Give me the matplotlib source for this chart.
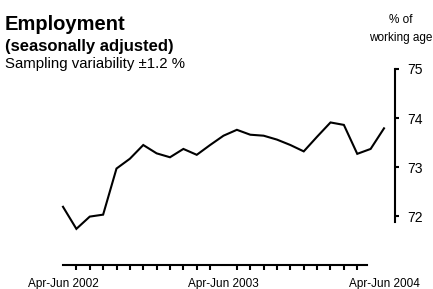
import numpy as np
import matplotlib
matplotlib.use("Agg")
import matplotlib.pyplot as plt

plt.rcParams['font.family'] = ['Liberation Sans', 'DejaVu Sans']

# rolling quarters, Apr-Jun 2002 .. Apr-Jun 2004
employment = [72.19, 71.74, 71.99, 72.03, 72.97, 73.17, 73.45, 73.28, 73.20,
              73.37, 73.25, 73.45, 73.64, 73.76, 73.66, 73.64, 73.56, 73.45,
              73.32, 73.62, 73.91, 73.86, 73.27, 73.37, 73.79]
x_labels = ["Apr-Jun 2002", "Apr-Jun 2003", "Apr-Jun 2004"]
y_ticks = [72, 73, 74, 75]

W, H = 433, 289
fig = plt.figure(figsize=(W / 100, H / 100), dpi=100)
left, right = 63, 395
top, bottom = 69, 222
ax = fig.add_axes([left / W, 1 - bottom / H, (right - left) / W, (bottom - top) / H])

x = np.arange(len(employment))
ax.plot(x, employment, color='k', lw=1.5, solid_joinstyle='miter', clip_on=False)

n = len(employment) - 1
ax.set_xlim(0, n * (right - left) / (384 - left))
ax.set_ylim(71.88, 75)

for s in ['top', 'left']:
    ax.spines[s].set_visible(False)
ax.spines['right'].set_linewidth(1.5)
ax.spines['bottom'].set_linewidth(1.5)
ax.spines['bottom'].set_position(('outward', 31))
ax.spines['bottom'].set_bounds(0, 22.7)

ax.yaxis.tick_right()
ax.set_yticks(y_ticks)
ax.tick_params(axis='y', direction='out', length=3, width=1.5, pad=6,
               labelsize=10)

ax.set_xticks([0, 12, 24])
ax.set_xticklabels(x_labels)
ax.set_xticks(np.arange(0, 23), minor=True)
ax.tick_params(axis='x', which='major', length=0, pad=9, labelsize=8.5)
ax.tick_params(axis='x', which='minor', direction='out', length=3.5, width=1.5)

fig.text(5 / W, 1 - 25 / H, "Employment", fontsize=14.5, fontweight='bold',
         va='center', ha='left')
fig.text(5 / W, 1 - 46 / H, "(seasonally adjusted)", fontsize=12,
         fontweight='bold', va='center', ha='left')
fig.text(5 / W, 1 - 64 / H, "Sampling variability \u00b11.2 %", fontsize=10.8,
         va='center', ha='left')
fig.text(401 / W, 1 - 29 / H, "% of\nworking age", fontsize=8.5, ha='center',
         va='center', linespacing=1.75)

fig.savefig("out.png", dpi=100)
